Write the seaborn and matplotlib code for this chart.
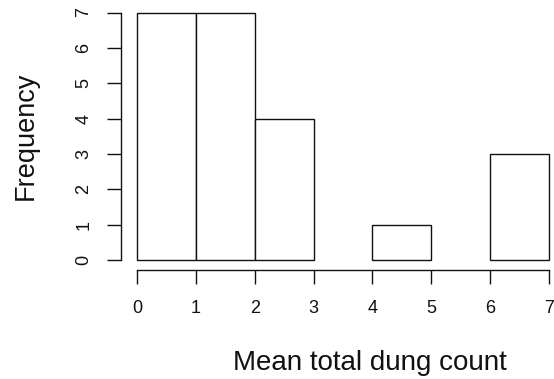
import matplotlib
matplotlib.use("Agg")
import matplotlib.pyplot as plt
import seaborn as sns
import numpy as np

bin_edges = [0, 1, 2, 3, 4, 5, 6, 7]
counts = [7, 7, 4, 0, 1, 0, 3]
x_ticks = [0, 1, 2, 3, 4, 5, 6, 7]
y_ticks = [0, 1, 2, 3, 4, 5, 6, 7]

sns.set_style("white")
plt.rcParams['font.family'] = ['Liberation Sans', 'DejaVu Sans']

W, H = 554, 379
fig = plt.figure(figsize=(W / 100, H / 100), dpi=100)
x0, x1 = 137, 549
y0, y1 = 260, 12.5
ax = fig.add_axes([x0 / W, (H - y0) / H, (x1 - x0) / W, (y0 - y1) / H])
ax.patch.set_visible(False)

centers = [(bin_edges[i] + bin_edges[i + 1]) / 2 for i in range(len(counts))]
sns.histplot(x=centers, weights=counts, bins=bin_edges, ax=ax,
             color="white", edgecolor="#111111", linewidth=1.0, alpha=1.0)
for p in list(ax.patches):
    if abs(p.get_height()) < 1e-9:
        p.remove()
    else:
        p.set_clip_on(False)

ax.set_xlim(0, 7)
ax.set_ylim(0, 7)
ax.set_xticks(x_ticks)
ax.set_yticks(y_ticks)
ax.set_xticklabels([str(v) for v in x_ticks])
ax.set_yticklabels([str(v) for v in y_ticks], va='center')
for s in ['top', 'right']:
    ax.spines[s].set_visible(False)
ax.spines['left'].set_position(('outward', 11.5))
ax.spines['bottom'].set_position(('outward', 7.5))
ax.spines['left'].set_bounds(0, 7)
ax.spines['bottom'].set_bounds(0, 7)
for s in ['left', 'bottom']:
    ax.spines[s].set_linewidth(1.0)
    ax.spines[s].set_color('#111111')
ax.tick_params(axis='both', length=10, width=1.0, color='#111111', direction='out',
               left=True, bottom=True, labelsize=13, labelcolor='#111111')
ax.tick_params(axis='x', pad=11)
ax.tick_params(axis='y', pad=10.8, labelrotation=90)
for lab in ax.get_yticklabels():
    lab.set_va('center')
ax.set_ylabel("Frequency", fontsize=19.5, color='#111111')
ax.set_xlabel("Mean total dung count", fontsize=20, color='#111111')
ax.xaxis.set_label_coords((370 - 137) / (x1 - x0), -(350 - 260) / (y0 - y1))
ax.yaxis.set_label_coords((39 - 137) / (x1 - x0), 0.5)
ax.grid(False)

fig.savefig("out.png", dpi=100)
